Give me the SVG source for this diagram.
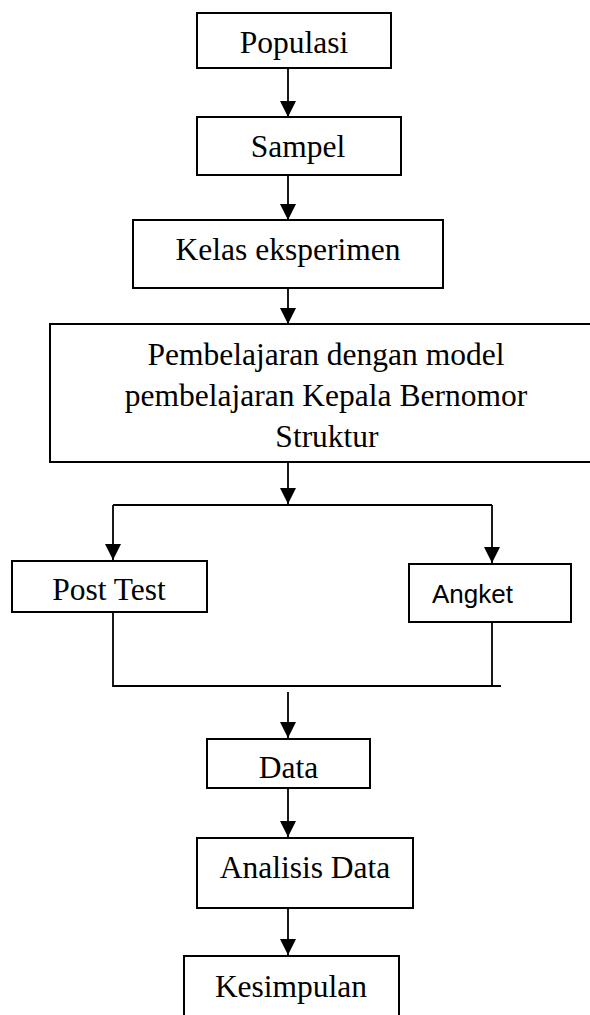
<svg xmlns="http://www.w3.org/2000/svg" width="590" height="1015" viewBox="0 0 590 1015">
<style>
.box{fill:#fff;stroke:#000;stroke-width:2}
.t{font-family:"Liberation Serif","Times New Roman",serif;font-size:31.5px;fill:#000;text-anchor:middle}
.s{font-family:"Liberation Sans",Arial,sans-serif;font-size:26px;fill:#000}
.c{fill:none;stroke:#000;stroke-width:1.8}
</style>
<defs>
<marker id="ah" markerUnits="userSpaceOnUse" markerWidth="16" markerHeight="18" refX="16" refY="8" orient="auto">
<path d="M0,0 L16,8 L0,16 Z" fill="#000"/>
</marker>
</defs>
<rect width="590" height="1015" fill="#fff"/>
<g id="connectors">
<line class="c" x1="288" y1="68" x2="288" y2="117" marker-end="url(#ah)"/>
<line class="c" x1="288" y1="175" x2="288" y2="220" marker-end="url(#ah)"/>
<line class="c" x1="288" y1="288" x2="288" y2="324" marker-end="url(#ah)"/>
<line class="c" x1="288" y1="462" x2="288" y2="504" marker-end="url(#ah)"/>
<polyline class="c" points="113,505 492,505"/>
<line class="c" x1="113" y1="505" x2="113" y2="560" marker-end="url(#ah)"/>
<line class="c" x1="492" y1="505" x2="492" y2="563" marker-end="url(#ah)"/>
<polyline class="c" points="113,612 113,686 501,686"/>
<line class="c" x1="492" y1="622" x2="492" y2="686"/>
<line class="c" x1="288" y1="692" x2="288" y2="738" marker-end="url(#ah)"/>
<line class="c" x1="288" y1="788" x2="288" y2="837" marker-end="url(#ah)"/>
<line class="c" x1="288" y1="908" x2="288" y2="955" marker-end="url(#ah)"/>
</g>
<g id="populasi"><rect class="box" x="197" y="13" width="194" height="55"/><text class="t" x="294" y="53">Populasi</text></g>
<g id="sampel"><rect class="box" x="197" y="117" width="204" height="58"/><text class="t" x="298" y="157">Sampel</text></g>
<g id="kelas"><rect class="box" x="133" y="220" width="310" height="68"/><text class="t" x="288" y="260">Kelas eksperimen</text></g>
<g id="pembelajaran"><rect class="box" x="50" y="324" width="545" height="138"/>
<text class="t" x="326" y="365">Pembelajaran dengan model</text>
<text class="t" x="326" y="406">pembelajaran Kepala Bernomor</text>
<text class="t" x="327" y="447">Struktur</text></g>
<g id="posttest"><rect class="box" x="12" y="561" width="195" height="51"/><text class="t" x="109" y="600">Post Test</text></g>
<g id="angket"><rect class="box" x="409" y="564" width="162" height="58"/><text class="s" x="432" y="603">Angket</text></g>
<g id="data"><rect class="box" x="207" y="739" width="163" height="49"/><text class="t" x="288.5" y="778">Data</text></g>
<g id="analisis"><rect class="box" x="197" y="838" width="216" height="70"/><text class="t" x="305" y="878">Analisis Data</text></g>
<g id="kesimpulan"><rect class="box" x="184" y="956" width="215" height="70"/><text class="t" x="291" y="997">Kesimpulan</text></g>
</svg>
